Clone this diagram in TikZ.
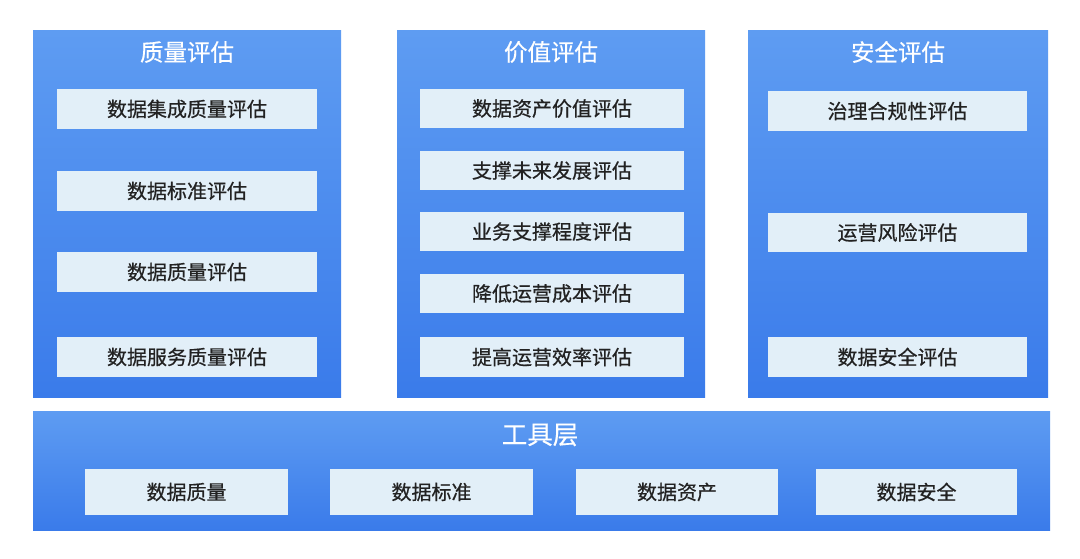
\documentclass[tikz,border=0pt]{standalone}
\usepackage{fontspec}
\newfontfamily\cjk[FakeBold=0.6]{Noto Sans CJK SC}
\newfontfamily\cjkt[FakeBold=0.4]{Noto Sans CJK SC}
\definecolor{pTop}{HTML}{5E9CF2}
\definecolor{pBot}{HTML}{3A7BEA}
\definecolor{boxfill}{HTML}{E2EFF8}
\definecolor{txt}{HTML}{222222}
\begin{document}
\begin{tikzpicture}[x=1pt,y=-1pt,
  panel/.style={top color=pTop,bottom color=pBot,draw=none},
  item/.style={fill=boxfill,draw=none,font=\cjk\fontsize{20}{22}\selectfont,text=txt,inner sep=0pt},
  ptitle/.style={font=\cjkt\fontsize{23.5}{26}\selectfont,text=white,inner sep=0pt}]
\useasboundingbox[fill=white] (0,0) rectangle (1080,559);
% panels
\shade[panel] (33,31) rectangle (341,397);
\shade[panel] (397,31) rectangle (705,397);
\shade[panel] (748,31) rectangle (1048,397);
\shade[panel] (33,411) rectangle (1050,530);
\node[ptitle] (t1) at (187,52) {质量评估};
\node[ptitle] (t2) at (551,52) {价值评估};
\node[ptitle] (t3) at (898,52) {安全评估};
\node[ptitle,font=\cjkt\fontsize{25.5}{28}\selectfont] (t4) at (540,435) {工具层};
% panel 1
\node[item,minimum width=260,minimum height=40] (a1) at (187,109) {数据集成质量评估};
\node[item,minimum width=260,minimum height=40] (a2) at (187,191) {数据标准评估};
\node[item,minimum width=260,minimum height=40] (a3) at (187,272) {数据质量评估};
\node[item,minimum width=260,minimum height=40] (a4) at (187,357) {数据服务质量评估};
% panel 2
\node[item,minimum width=264,minimum height=39] (b1) at (552,108.5) {数据资产价值评估};
\node[item,minimum width=264,minimum height=39] (b2) at (552,170.5) {支撑未来发展评估};
\node[item,minimum width=264,minimum height=39] (b3) at (552,231.5) {业务支撑程度评估};
\node[item,minimum width=264,minimum height=39] (b4) at (552,293.5) {降低运营成本评估};
\node[item,minimum width=264,minimum height=40] (b5) at (552,357) {提高运营效率评估};
% panel 3
\node[item,minimum width=259,minimum height=40] (c1) at (897.5,111) {治理合规性评估};
\node[item,minimum width=259,minimum height=39] (c2) at (897.5,232.5) {运营风险评估};
\node[item,minimum width=259,minimum height=40] (c3) at (897.5,357) {数据安全评估};
% tools
\node[item,minimum width=203,minimum height=46] (d1) at (186.5,492) {数据质量};
\node[item,minimum width=203,minimum height=46] (d2) at (431.5,492) {数据标准};
\node[item,minimum width=202,minimum height=46] (d3) at (677,492) {数据资产};
\node[item,minimum width=201,minimum height=46] (d4) at (916.5,492) {数据安全};
\end{tikzpicture}
\end{document}
